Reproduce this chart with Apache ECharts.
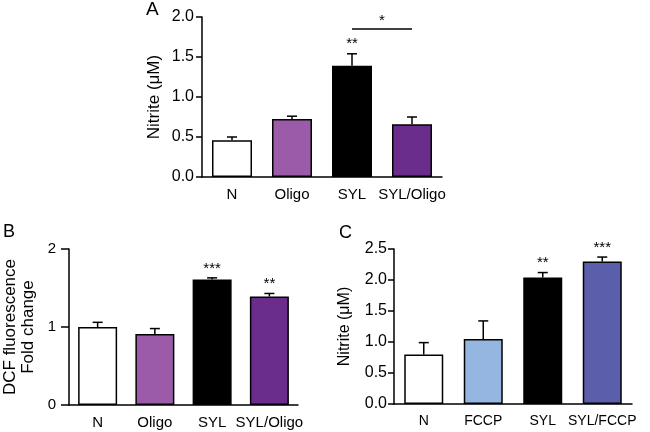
<!DOCTYPE html>
<html><head><meta charset="utf-8">
<script src="https://cdn.jsdelivr.net/npm/echarts@6/dist/echarts.min.js"></script>
<style>html,body{margin:0;padding:0;background:#fff}#c{width:650px;height:432px}</style>
</head><body><div id="c"></div>
<script>
// Panel A
const catsA = ['N', 'Oligo', 'SYL', 'SYL/Oligo'];
const meanA = [0.46, 0.725, 1.39, 0.66];
const errA = [0.50, 0.76, 1.54, 0.75];
const starsA = ['', '', '**', ''];
const colorsA = ['#ffffff', '#9b5ba8', '#000000', '#6b2d8b'];
const sigA = { from: 2, to: 3, level: 1.85, text: '*' };
const ticksA = { min: 0, max: 2, interval: 0.5 };
// Panel B
const catsB = ['N', 'Oligo', 'SYL', 'SYL/Oligo'];
const meanB = [1.0, 0.91, 1.61, 1.39];
const errB = [1.06, 0.98, 1.63, 1.43];
const starsB = ['', '', '***', '**'];
const colorsB = ['#ffffff', '#9b5ba8', '#000000', '#6b2d8b'];
const ticksB = { min: 0, max: 2, interval: 1 };
// Panel C
const catsC = ['N', 'FCCP', 'SYL', 'SYL/FCCP'];
const meanC = [0.80, 1.05, 2.04, 2.30];
const errC = [0.99, 1.34, 2.12, 2.37];
const starsC = ['', '', '**', '***'];
const colorsC = ['#ffffff', '#94b6e0', '#000000', '#5b5fab'];
const ticksC = { min: 0, max: 2.5, interval: 0.5 };

const FONT = '"Liberation Sans", Arial, Helvetica, sans-serif';
const chart = echarts.init(document.getElementById('c'), null, { renderer: 'canvas' });

function xAxis(idx, cats, labelSize) {
  return {
    type: 'category', gridIndex: idx, data: cats,
    axisLine: { lineStyle: { color: '#000', width: 1.5 } },
    axisTick: { alignWithLabel: true, length: 5, lineStyle: { color: '#000', width: 1.5 } },
    axisLabel: { color: '#000', fontSize: labelSize, fontFamily: FONT, margin: 10, interval: 0 },
    splitLine: { show: false }
  };
}
function yAxis(idx, t, name, nameGap, fontSize, nameSize, lineH, decimals, tickLen, margin) {
  return {
    type: 'value', gridIndex: idx, min: t.min, max: t.max, interval: t.interval,
    name: name, nameLocation: 'middle', nameGap: nameGap,
    nameTextStyle: { color: '#000', fontSize: nameSize, fontFamily: FONT, lineHeight: lineH },
    axisLine: { show: true, lineStyle: { color: '#000', width: 1.5 } },
    axisTick: { show: true, length: tickLen, lineStyle: { color: '#000', width: 1.5 } },
    axisLabel: { color: '#000', fontSize: fontSize, fontFamily: FONT, margin: margin,
      formatter: v => v.toFixed(decimals) },
    splitLine: { show: false }
  };
}
function barSeries(idx, means, colors, width) {
  return {
    type: 'bar', xAxisIndex: idx, yAxisIndex: idx, barWidth: width,
    data: means.map((v, i) => ({ value: v, itemStyle: { color: colors[i] } })),
    itemStyle: { borderColor: '#000', borderWidth: 1.5 },
    silent: true, z: 2
  };
}
function errSeries(idx, means, errs) {
  return {
    type: 'custom', xAxisIndex: idx, yAxisIndex: idx, z: 1,
    data: means.map((v, i) => [i, v, errs[i]]),
    renderItem: function (params, api) {
      const p0 = api.coord([api.value(0), api.value(1)]);
      const p1 = api.coord([api.value(0), api.value(2)]);
      const hw = 5;
      return { type: 'group', children: [
        { type: 'line', shape: { x1: p0[0], y1: p0[1], x2: p1[0], y2: p1[1] }, style: { stroke: '#000', lineWidth: 1.5 } },
        { type: 'line', shape: { x1: p1[0] - hw, y1: p1[1], x2: p1[0] + hw, y2: p1[1] }, style: { stroke: '#000', lineWidth: 1.5 } }
      ]};
    }
  };
}
function starSeries(idx, errs, stars) {
  return {
    type: 'custom', xAxisIndex: idx, yAxisIndex: idx, z: 3,
    data: errs.map((v, i) => [i, v, stars[i]]),
    renderItem: function (params, api) {
      const s = stars[params.dataIndex];
      if (!s) return null;
      const p = api.coord([api.value(0), api.value(1)]);
      return { type: 'text', style: { text: s, x: p[0], y: p[1] - 2, align: 'center', verticalAlign: 'bottom',
        fill: '#000', font: '15px ' + FONT } };
    }
  };
}
function sigSeries(idx, sig) {
  return {
    type: 'custom', xAxisIndex: idx, yAxisIndex: idx, z: 3,
    data: [[sig.from, sig.to, sig.level]],
    renderItem: function (params, api) {
      const a = api.coord([api.value(0), api.value(2)]);
      const b = api.coord([api.value(1), api.value(2)]);
      return { type: 'group', children: [
        { type: 'line', shape: { x1: a[0], y1: a[1], x2: b[0], y2: b[1] }, style: { stroke: '#000', lineWidth: 1.5 } },
        { type: 'text', style: { text: sig.text, x: (a[0] + b[0]) / 2, y: a[1] - 1, align: 'center', verticalAlign: 'bottom',
          fill: '#000', font: '15px ' + FONT } }
      ]};
    }
  };
}

const option = {
  backgroundColor: '#fff',
  animation: false,
  grid: [
    { left: 202, right: 208, top: 17, bottom: 255 },
    { left: 66, right: 352, top: 249, bottom: 27 },
    { left: 394, right: 18, top: 249, bottom: 28 }
  ],
  xAxis: [xAxis(0, catsA, 15), xAxis(1, catsB, 15), xAxis(2, catsC, 14)],
  yAxis: [
    yAxis(0, ticksA, 'Nitrite (μM)', 38, 16, 17, 20, 1, 6, 8),
    yAxis(1, ticksB, 'DCF fluorescence\nFold change', 32, 15, 17, 18, 0, 8, 13),
    yAxis(2, ticksC, 'Nitrite (μM)', 40, 16, 16, 19, 1, 6, 7)
  ],
  series: [
    barSeries(0, meanA, colorsA, 40), errSeries(0, meanA, errA), starSeries(0, errA, starsA), sigSeries(0, sigA),
    barSeries(1, meanB, colorsB, 39), errSeries(1, meanB, errB), starSeries(1, errB, starsB),
    barSeries(2, meanC, colorsC, 39), errSeries(2, meanC, errC), starSeries(2, errC, starsC)
  ],
  graphic: [
    { type: 'text', left: 146, top: 0, style: { text: 'A', font: '19px ' + FONT, fill: '#000' } },
    { type: 'text', left: 3, top: 223, style: { text: 'B', font: '18px ' + FONT, fill: '#000' } },
    { type: 'text', left: 339, top: 224, style: { text: 'C', font: '18px ' + FONT, fill: '#000' } }
  ]
};
chart.setOption(option);
</script></body></html>
